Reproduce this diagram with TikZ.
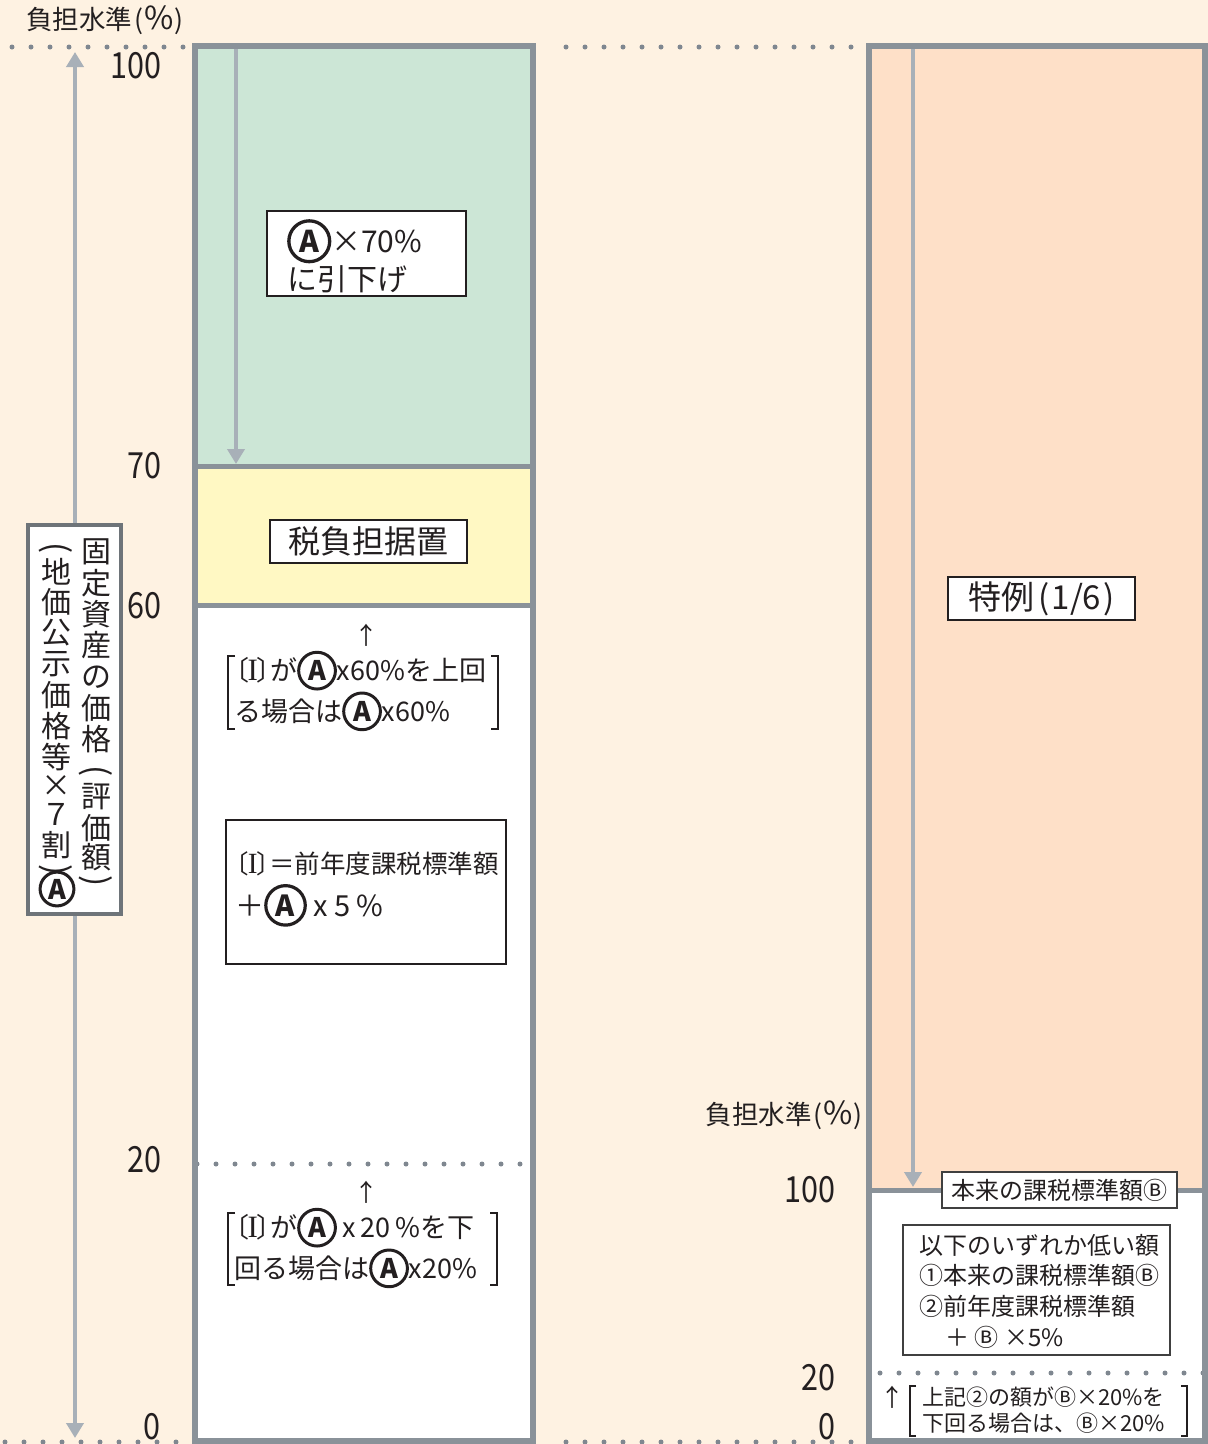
\documentclass[tikz,border=0pt]{standalone}
\usepackage{fontspec}
\setmainfont{Noto Sans CJK JP}
\newfontfamily\serI{Liberation Serif}
\usetikzlibrary{arrows.meta}
\definecolor{bgc}{HTML}{FEF2E2}
\definecolor{greenc}{HTML}{CCE6D6}
\definecolor{yellowc}{HTML}{FFF8C3}
\definecolor{peachc}{HTML}{FEE0C8}
\definecolor{borderc}{HTML}{8A9299}
\definecolor{arrowc}{HTML}{A8B0B8}
\definecolor{dotc}{HTML}{7F8790}
\definecolor{inkc}{HTML}{231F20}
\definecolor{vboxc}{HTML}{6E7479}
\newcommand{\fs}[2]{\fontsize{#1}{#2}\selectfont}
\newcommand{\cA}{\tikz[baseline=(cAn.base)]\node[circle,draw=inkc,line width=0.11em,inner sep=0.13em,outer sep=0pt,font=\bfseries,text=inkc](cAn){A};}
\newcommand{\rI}{\kern-.45em〔\kern-.05em{\serI\scalebox{1.15}{I}}\kern-.05em〕\kern-.5em}
\newcommand{\nm}[1]{\scalebox{0.85}[1]{#1}}
\newcommand{\pct}{\kern2pt(\kern1pt\scalebox{1.2}{\%}\kern1pt)}
\tikzset{
 colborder/.style={draw=borderc, line width=5.5pt},
 divider/.style={draw=borderc, line width=5pt},
 scalearrow/.style={draw=arrowc, line width=4.5pt, -{Triangle[width=17pt,length=15pt]}},
 dblarrow/.style={draw=arrowc, line width=4.5pt, {Triangle[width=17pt,length=15pt]}-{Triangle[width=17pt,length=15pt]}},
 dotline/.style={draw=dotc, line width=5pt, line cap=round, dash pattern=on 0pt off 19pt},
 numlbl/.style={font=\fs{36}{36}, text=inkc, inner sep=0pt, anchor=east},
 axislbl/.style={font=\fs{26.5}{26.5}, text=inkc, inner sep=0pt},
 blackbox/.style={draw=inkc, line width=2.5pt, fill=white, inner sep=0pt},
 thinbox/.style={draw=black!75, line width=1.8pt, fill=white, inner sep=0pt},
 txt/.style={text=inkc, inner sep=0pt, align=left},
 brkline/.style={draw=inkc, line width=1.5pt},
 vchar/.style={font=\fs{30}{30}, text=inkc, inner sep=0pt},
}
\begin{document}
\begin{tikzpicture}[x=1pt,y=-1pt]
\useasboundingbox (0,0) rectangle (1208,1444);
\fill[bgc] (0,0) rectangle (1208,1444);
% left column
\fill[greenc] (195,46) rectangle (533,466);
\fill[yellowc] (195,466) rectangle (533,605);
\fill[white] (195,605) rectangle (533,1441);
\draw[dotline] (197,1164) -- (530,1164);
\draw[divider] (195,466) -- (533,466);
\draw[divider] (195,605) -- (533,605);
\draw[colborder] (195,46) rectangle (533,1441);
% right column
\fill[peachc] (869,46) rectangle (1205,1190);
\fill[white] (869,1190) rectangle (1205,1441);
\draw[dotline] (880,1373) -- (1205,1373);
\draw[divider] (869,1190) -- (1205,1190);
\draw[colborder] (869,46) rectangle (1205,1441);
% dotted level lines
\draw[dotline] (12,47) -- (186,47);
\draw[dotline] (566,47) -- (856,47);
\draw[dotline] (5,1442) -- (190,1442);
\draw[dotline] (566,1442) -- (862,1442);
% scale arrows
\coordinate (gTop) at (236,49);
\coordinate (gBot) at (236,464);
\coordinate (lTop) at (75,52);
\coordinate (lBot) at (75,1438);
\coordinate (rTop) at (913,49);
\coordinate (rBot) at (913,1187);
\draw[scalearrow] (gTop) -- (gBot);
\draw[scalearrow] (rTop) -- (rBot);
\draw[dblarrow] (lTop) -- (lBot);
% axis titles
\node[axislbl, anchor=west] (ttl1) at (26,20) {負担水準\pct};
\node[axislbl, anchor=east] (ttl2) at (863,1115) {負担水準\pct};
% numbers
\node[numlbl] (n100) at (162,66) {\nm{100}};
\node[numlbl] (n70) at (162,466) {\nm{70}};
\node[numlbl] (n60) at (162,606) {\nm{60}};
\node[numlbl] (n20) at (162,1160) {\nm{20}};
\node[numlbl] (n0) at (161,1427) {\nm{0}};
\node[numlbl] (m100) at (836,1190) {\nm{100}};
\node[numlbl] (m20) at (836,1378) {\nm{20}};
\node[numlbl] (m0) at (836,1427) {\nm{0}};
% vertical label
\node[draw=vboxc, line width=4pt, fill=white, minimum width=93, minimum height=389, inner sep=0pt] (vbox) at (74.5,719) {};
\foreach \c/\y [count=\i] in {固/552,定/583,資/614,産/645,の/677,価/708,格/739,評/797,価/828,額/857}
  \node[vchar] (vr\i) at (96,\y) {\c};
\node[vchar, rotate=-90, scale=1.1] (vrp1) at (96,771) {(};
\node[vchar, rotate=-90, scale=1.1] (vrp2) at (96,881) {)};
\foreach \c/\y [count=\i] in {地/572,価/602,公/633,示/664,価/695,格/726,等/757,×/786,７/814,割/845}
  \node[vchar] (vl\i) at (56,\y) {\c};
\node[vchar, rotate=-90, scale=1.1] (vlp1) at (56,548) {(};
\node[vchar, rotate=-90, scale=1.1] (vlp2) at (56,870) {)};
\node[circle, draw=inkc, line width=3pt, inner sep=2.5pt, font=\bfseries\fs{27}{27}, text=inkc] (vA) at (57,889) {A};
% left column boxes
\node[blackbox, minimum width=199, minimum height=85] (b70) at (366.5,253.5) {};
\node[txt, font=\fs{30}{38}, anchor=west] (t70) at (287,256) {\cA×70\%\\に引下げ};
\node[blackbox, minimum width=197, minimum height=43, font=\fs{32}{32}, text=inkc] (bz) at (368.5,541.5) {税負担据置};
\node[txt, font=\fs{24}{24}] (up1) at (366,635) {↑};
\node[txt, font=\fs{27}{38}, anchor=west] (t60) at (234,691) {\rI が\cA x60\%を上回\\る場合は\cA x60\%};
\draw[brkline] (235,656) -- (228,656) -- (228,729) -- (235,729);
\draw[brkline] (491,656) -- (498,656) -- (498,729) -- (491,729);
\node[blackbox, minimum width=280, minimum height=144] (bI) at (366,892) {};
\node[txt, font=\fs{25.5}{43}, anchor=west] (tI) at (235,889) {\rI＝前年度課税標準額\\{\fs{29}{43}＋\cA\ x 5 \%}};
\node[txt, font=\fs{24}{24}] (up2) at (366,1192) {↑};
\node[txt, font=\fs{27}{38}, anchor=west] (t20) at (234,1248) {\rI が\cA\ x\,20\,\%を下\\回る場合は\cA x20\%};
\draw[brkline] (235,1213) -- (228,1213) -- (228,1285) -- (235,1285);
\draw[brkline] (490,1213) -- (497,1213) -- (497,1285) -- (490,1285);
% right column boxes
\node[blackbox, minimum width=187, minimum height=43, font=\fs{33}{33}, text=inkc] (tok) at (1041.5,598.5) {特例\kern4pt(\kern2pt1/6\kern2pt)};
\node[thinbox, minimum width=235, minimum height=36, font=\fs{24}{24}, text=inkc] (hon) at (1059.5,1190) {本来の課税標準額Ⓑ};
\node[thinbox, minimum width=267, minimum height=130] (ika) at (1036.5,1290) {};
\node[txt, font=\fs{24}{30.7}, anchor=west] (tika) at (919,1291) {以下のいずれか低い額\\①本来の課税標準額Ⓑ\\②前年度課税標準額\\\hspace{1.1em}＋ Ⓑ ×5\%};
\node[txt, font=\fs{24}{24}] (up3) at (892,1397) {↑};
\node[txt, font=\fs{22}{26}, anchor=west] (tlow) at (922,1410) {上記②の額がⒷ×20\%を\\下回る場合は、Ⓑ×20\%};
\draw[brkline] (916,1386) -- (910,1386) -- (910,1436) -- (916,1436);
\draw[brkline] (1181,1386) -- (1187,1386) -- (1187,1436) -- (1181,1436);
\end{tikzpicture}
\end{document}
